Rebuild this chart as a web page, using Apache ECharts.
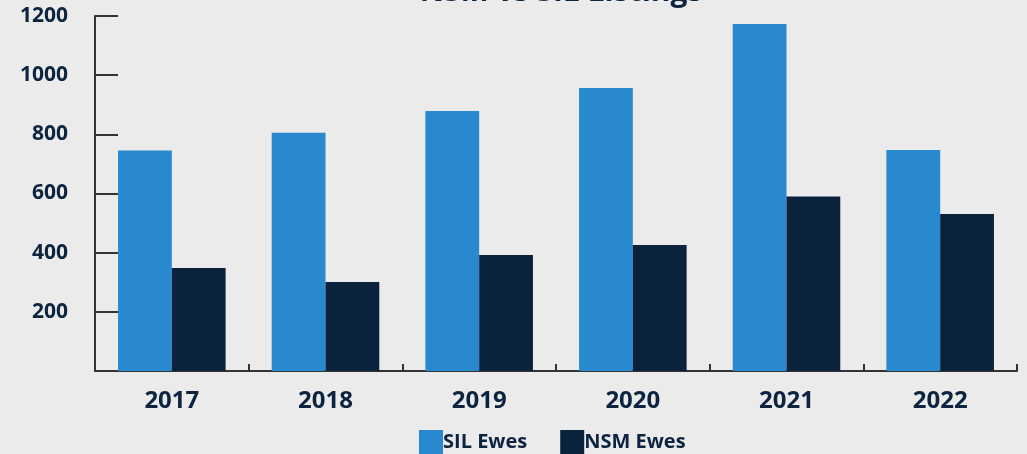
<!DOCTYPE html>
<html>
<head>
<meta charset="utf-8">
<script src="https://cdn.jsdelivr.net/npm/echarts@6/dist/echarts.min.js"></script>
<style>
html,body{margin:0;padding:0;background:#ebebeb;}
#c{width:1027px;height:454px;}
</style>
</head>
<body>
<div id="c"></div>
<script>
var titleText = 'NSM vs SIL Listings';
var categories = ['2017','2018','2019','2020','2021','2022'];
var silEwes = [745, 805, 879, 957, 1173, 747];
var nsmEwes = [348, 301, 392, 426, 590, 531];
var yTicks = [0, 200, 400, 600, 800, 1000, 1200];

var textColor = '#0d2440';
var chart = echarts.init(document.getElementById('c'));
chart.setOption({
  backgroundColor: '#ebebeb',
  textStyle: {fontFamily: 'Open Sans'},
  title: {
    text: titleText,
    left: 556, textAlign: 'center',
    top: -28,
    textStyle: {fontSize: 30, fontWeight: 'bold', color: textColor, fontFamily: 'Open Sans'}
  },
  legend: {
    bottom: -5, left: 414,
    icon: 'rect',
    itemWidth: 24, itemHeight: 24, itemGap: 33,
    textStyle: {fontSize: 20, fontWeight: 'bold', color: textColor, fontFamily: 'Open Sans', padding: [0,0,0,-5]},
    data: ['SIL Ewes', 'NSM Ewes']
  },
  grid: {left: 95, right: 10, top: 16, bottom: 83},
  xAxis: {
    type: 'category',
    data: categories,
    axisLine: {lineStyle: {color: '#333', width: 2}},
    axisTick: {show: true, inside: true, length: 7, lineStyle: {color: '#333', width: 2}},
    axisLabel: {fontSize: 24, fontWeight: 'bold', color: textColor, margin: 18, fontFamily: 'Open Sans'}
  },
  yAxis: {
    type: 'value',
    min: yTicks[0], max: yTicks[yTicks.length-1], interval: 200,
    splitLine: {show: false},
    axisLine: {show: true, lineStyle: {color: '#333', width: 2}},
    axisTick: {show: true, inside: true, length: 23, lineStyle: {color: '#333', width: 2}},
    axisLabel: {fontSize: 21, fontWeight: 'bold', color: textColor, margin: 27, fontFamily: 'Open Sans',
      formatter: function(v){ return v === 0 ? '' : String(v); }}
  },
  series: [
    {name: 'SIL Ewes', type: 'bar', data: silEwes, barGap: '0%', barCategoryGap: '30%',
      itemStyle: {color: '#2989ce'}},
    {name: 'NSM Ewes', type: 'bar', data: nsmEwes,
      itemStyle: {color: '#0a223c'}}
  ]
});
</script>
</body>
</html>
